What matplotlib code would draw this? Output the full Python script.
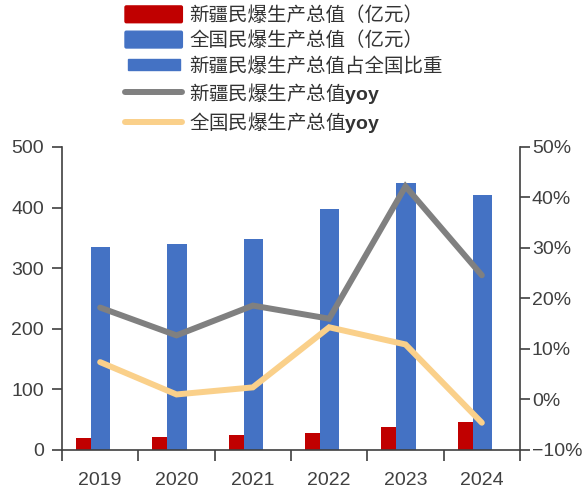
import matplotlib
matplotlib.use("Agg")
import matplotlib.pyplot as plt
from matplotlib.patches import Rectangle, FancyBboxPatch
from matplotlib.lines import Line2D
from matplotlib.legend_handler import HandlerPatch
from matplotlib.ticker import FuncFormatter, FixedLocator
import numpy as np

plt.rcParams['font.family'] = ['Liberation Sans', 'Noto Sans CJK SC', 'DejaVu Sans']
plt.rcParams['mathtext.fontset'] = 'custom'
plt.rcParams['mathtext.bf'] = 'Liberation Sans:bold'
plt.rcParams['mathtext.rm'] = 'Liberation Sans'

years = ['2019', '2020', '2021', '2022', '2023', '2024']
xinjiang_output = [19, 21, 25, 28, 38, 47]          # 亿元
national_output = [335, 340, 348, 398, 440, 421]    # 亿元
xinjiang_yoy = [18.2, 12.7, 18.6, 16.0, 42.2, 24.6]  # %
national_yoy = [7.4, 1.0, 2.4, 14.3, 10.9, -4.6]     # %

labels = ['新疆民爆生产总值（亿元）', '全国民爆生产总值（亿元）',
          '新疆民爆生产总值占全国比重', r'新疆民爆生产总值$\mathbf{yoy}$',
          r'全国民爆生产总值$\mathbf{yoy}$']

RED = '#C00000'
BLUE = '#4472C4'
GRAY = '#808080'
GOLD = '#FAD08A'
AXC = '#404040'
FS = 14

fig = plt.figure(figsize=(5.82, 4.88), dpi=100)
ax = fig.add_axes([62 / 582, 1 - 450 / 488, (520 - 62) / 582, (450 - 147) / 488])
ax2 = ax.twinx()

x = np.arange(len(years))
ax.bar(x - 0.317, xinjiang_output, width=0.198, align='edge', color=RED, zorder=2)
ax.bar(x - 0.119, national_output, width=0.251, align='edge', color=BLUE, zorder=2)

ax2.plot(x, xinjiang_yoy, color=GRAY, lw=4.3, solid_capstyle='round', solid_joinstyle='miter', zorder=3)
ax2.plot(x, national_yoy, color=GOLD, lw=4.3, solid_capstyle='round', solid_joinstyle='miter', zorder=3)

ax.set_xlim(-0.5, len(years) - 0.5)
ax.set_ylim(0, 500)
ax.set_yticks(np.arange(0, 501, 100))
ax2.set_ylim(-10, 50)
ax2.set_yticks(np.arange(-10, 51, 10))
ax2.yaxis.set_major_formatter(FuncFormatter(lambda v, p: f'{v:.0f}%'.replace('-', '−')))

# category boundaries as ticks, labels at centres
ax.xaxis.set_major_locator(FixedLocator(np.arange(-0.5, len(years), 1.0)))
ax.xaxis.set_minor_locator(FixedLocator(x))
ax.set_xticklabels([])
ax.set_xticklabels(years, minor=True)
ax.tick_params(axis='x', which='major', length=8, width=1.2, color=AXC, direction='out')
ax.tick_params(axis='x', which='minor', length=0, pad=16, labelsize=FS, labelcolor=AXC)
ax.tick_params(axis='y', length=7, width=1.2, color=AXC, labelsize=FS, labelcolor=AXC, pad=6)
ax2.tick_params(axis='y', length=7, width=1.2, color=AXC, labelsize=FS, labelcolor=AXC, pad=1.5)

for a in (ax, ax2):
    for s in a.spines.values():
        s.set_color(AXC)
        s.set_linewidth(1.2)
    a.spines['top'].set_visible(False)
ax2.spines['bottom'].set_visible(False)
ax2.spines['left'].set_visible(False)
ax.spines['right'].set_visible(False)


def rounded_patch(legend, orig_handle, xdescent, ydescent, width, height, fontsize):
    return FancyBboxPatch((-xdescent + 1, -ydescent + 1), width - 2, height - 2,
                          boxstyle='round,pad=1', mutation_aspect=1)


def small_patch(legend, orig_handle, xdescent, ydescent, width, height, fontsize):
    return Rectangle((-xdescent + 2, -ydescent + 2), width - 4, height - 4)


h_red = Rectangle((0, 0), 1, 1, color=RED)
h_blue = Rectangle((0, 0), 1, 1, color=BLUE)
h_share = Rectangle((0, 0), 1, 1, color=BLUE)
h_gray = Line2D([], [], color=GRAY, lw=4.3, solid_capstyle='round')
h_gold = Line2D([], [], color=GOLD, lw=4.3, solid_capstyle='round')

leg = fig.legend([h_red, h_blue, h_share, h_gray, h_gold], labels,
                 loc='upper left', bbox_to_anchor=(125 / 582, 1 - 5 / 488),
                 frameon=False, ncol=1,
                 prop={'family': ['Noto Sans CJK SC'], 'size': FS},
                 handlelength=2.95, handleheight=0.95, handletextpad=0.35,
                 labelspacing=0.22, borderaxespad=0, borderpad=0,
                 handler_map={h_red: HandlerPatch(patch_func=rounded_patch),
                              h_blue: HandlerPatch(patch_func=rounded_patch),
                              h_share: HandlerPatch(patch_func=small_patch)})
for t in leg.get_texts():
    t.set_color('#333333')

fig.savefig('out.png', dpi=100)
